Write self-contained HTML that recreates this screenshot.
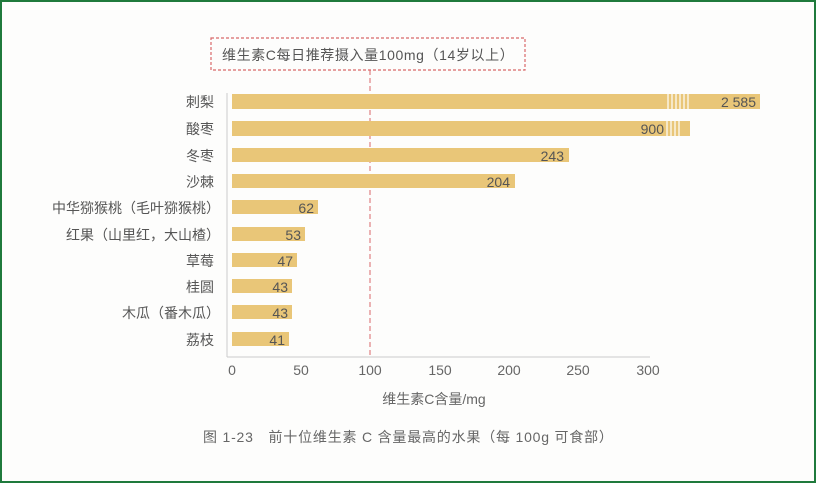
<!DOCTYPE html>
<html><head><meta charset="utf-8"><style>
body{margin:0;width:816px;height:483px;overflow:hidden;background:#fff;font-family:"Liberation Sans","Noto Sans CJK SC",sans-serif;}
.frame{position:absolute;left:0;top:0;width:812px;height:479px;border:2px solid #1f7a3c;background:#fdfdfc;}
</style></head><body><div class="frame"></div>
<svg width="816" height="483" style="position:absolute;left:0;top:0" font-family="Liberation Sans, Noto Sans CJK SC, sans-serif">
<rect x="211" y="38" width="314" height="32" fill="none" stroke="#d9686a" stroke-width="1.2" stroke-dasharray="3,2"/>
<text x="222" y="60" font-size="14" fill="#555" letter-spacing="0.6">维生素C每日推荐摄入量100mg（14岁以上）</text>
<line x1="370" y1="70" x2="370" y2="357" stroke="#d9686a" stroke-width="1" stroke-dasharray="5,3"/>
<line x1="227" y1="93" x2="227" y2="357" stroke="#ccc"/>
<line x1="227" y1="357" x2="650" y2="357" stroke="#ccc"/>
<g fill="#e9c678">
<rect x="232" y="94" width="528" height="15"/>
<rect x="232" y="121" width="458" height="15"/>
<rect x="232" y="148" width="337" height="14"/>
<rect x="232" y="174" width="283" height="14"/>
<rect x="232" y="200" width="86" height="14"/>
<rect x="232" y="227" width="73" height="14"/>
<rect x="232" y="253" width="65" height="14"/>
<rect x="232" y="279" width="60" height="14"/>
<rect x="232" y="305" width="60" height="14"/>
<rect x="232" y="332" width="57" height="14"/>
</g>
<g stroke="#fff" stroke-width="1.2">
<line x1="668" y1="94" x2="668" y2="109"/><line x1="672" y1="94" x2="672" y2="109"/><line x1="676" y1="94" x2="676" y2="109"/><line x1="680" y1="94" x2="680" y2="109"/><line x1="684" y1="94" x2="684" y2="109"/><line x1="688" y1="94" x2="688" y2="109"/>
<line x1="667" y1="121" x2="667" y2="136"/><line x1="671" y1="121" x2="671" y2="136"/><line x1="675" y1="121" x2="675" y2="136"/><line x1="679" y1="121" x2="679" y2="136"/>
</g>
<g font-size="14" fill="#555" text-anchor="end">
<text x="756" y="107">2 585</text><text x="664" y="134">900</text><text x="564" y="161">243</text><text x="510" y="187">204</text>
<text x="314" y="213">62</text><text x="301" y="240">53</text><text x="293" y="266">47</text><text x="288" y="292">43</text><text x="288" y="318">43</text><text x="285" y="345">41</text>
<text x="214" y="107">刺梨</text><text x="214" y="134">酸枣</text><text x="214" y="161">冬枣</text><text x="214" y="187">沙棘</text>
<text x="220" y="213">中华猕猴桃（毛叶猕猴桃）</text><text x="220" y="240">红果（山里红，大山楂）</text><text x="214" y="266">草莓</text><text x="214" y="292">桂圆</text><text x="220" y="318">木瓜（番木瓜）</text><text x="214" y="345">荔枝</text>
</g>
<g font-size="14" fill="#666" text-anchor="middle">
<text x="232" y="375">0</text><text x="301" y="375">50</text><text x="370" y="375">100</text><text x="440" y="375">150</text><text x="509" y="375">200</text><text x="578" y="375">250</text><text x="648" y="375">300</text>
<text x="434" y="404" font-size="14">维生素C含量/mg</text>
</g>
<text x="203" y="442" font-size="14" fill="#666" letter-spacing="0.8">图 1-23　前十位维生素 C 含量最高的水果（每 100g 可食部）</text>
</svg></body></html>
